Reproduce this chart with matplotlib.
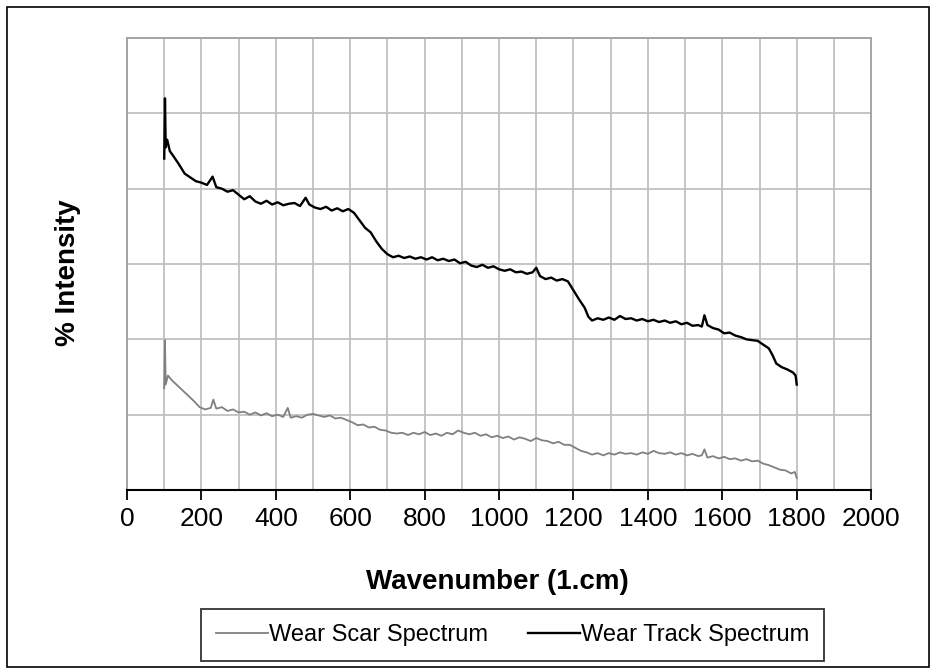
import matplotlib
matplotlib.use("Agg")
import matplotlib.pyplot as plt
from matplotlib.patches import Rectangle

plt.rcParams["font.family"] = ["Liberation Sans", "DejaVu Sans"]

# wear track spectrum (black)
track_x = [100, 102, 104, 108, 115, 125, 140, 155, 170, 185, 200, 215, 230, 240, 255, 270, 285, 300,
           315, 330, 345, 360, 375, 390, 405, 420, 435, 450, 465, 480, 490, 505, 520, 535, 550, 565,
           580, 595, 610, 625, 640, 655, 670, 685, 700, 715, 730, 745, 760, 775, 790, 805, 820, 835,
           850, 865, 880, 895, 910, 925, 940, 955, 970, 985, 1000, 1015, 1030, 1045, 1060, 1075, 1090,
           1100, 1110, 1125, 1140, 1155, 1170, 1185, 1200, 1215, 1230, 1240, 1250, 1265, 1280, 1295,
           1310, 1325, 1340, 1355, 1370, 1385, 1400, 1415, 1430, 1445, 1460, 1475, 1490, 1505, 1520,
           1535, 1545, 1552, 1560, 1575, 1590, 1605, 1620, 1635, 1650, 1665, 1680, 1695, 1710, 1725,
           1735, 1745, 1760, 1775, 1790, 1797, 1800]
track_y = [44.0, 52.0, 45.5, 46.5, 45.0, 44.3, 43.2, 42.0, 41.5, 41.0, 40.8, 40.5, 41.6, 40.2, 40.0, 39.6, 39.8, 39.2,
           38.6, 39.0, 38.3, 38.0, 38.4, 37.9, 38.2, 37.8, 38.0, 38.1, 37.7, 38.8, 37.9, 37.5, 37.3, 37.6, 37.1, 37.4,
           37.0, 37.3, 36.8, 35.8, 34.8, 34.2, 33.0, 32.0, 31.3, 30.9, 31.1, 30.8, 31.0, 30.7, 30.9, 30.6, 30.9, 30.5,
           30.7, 30.4, 30.6, 30.1, 30.3, 29.8, 29.6, 29.9, 29.5, 29.7, 29.3, 29.1, 29.3, 28.9, 29.0, 28.7, 28.9,
           29.5, 28.4, 28.0, 28.2, 27.8, 28.0, 27.7, 26.5, 25.3, 24.2, 23.0, 22.5, 22.8, 22.6, 22.9,
           22.6, 23.1, 22.7, 22.8, 22.5, 22.7, 22.4, 22.6, 22.3, 22.5, 22.2, 22.4, 22.0, 22.2, 21.8,
           21.9, 21.7, 23.2, 21.9, 21.5, 21.3, 20.8, 20.9, 20.5, 20.3, 20.0, 19.9, 19.8, 19.3, 18.8,
           17.9, 16.8, 16.3, 16.0, 15.6, 15.2, 14.0]

# wear scar spectrum (gray)
scar_x = [100, 102, 104, 110, 120, 135, 150, 165, 180, 195, 210, 225, 232, 240, 255, 270, 285, 300,
          315, 330, 345, 360, 375, 390, 405, 420, 432, 440, 455, 470, 485, 500, 515, 530, 545, 560,
          575, 590, 605, 620, 635, 650, 665, 680, 695, 710, 725, 740, 755, 770, 785, 800, 815, 830,
          845, 860, 875, 890, 905, 920, 935, 950, 965, 980, 995, 1010, 1025, 1040, 1055, 1070, 1085,
          1100, 1115, 1130, 1145, 1160, 1175, 1190, 1205, 1220, 1235, 1250, 1265, 1280, 1295, 1310,
          1325, 1340, 1355, 1370, 1385, 1400, 1415, 1430, 1445, 1460, 1475, 1490, 1505, 1520, 1535,
          1545, 1552, 1560, 1575, 1590, 1605, 1620, 1635, 1650, 1665, 1680, 1695, 1710, 1725, 1740,
          1755, 1770, 1785, 1795, 1800]
scar_y = [13.5, 19.9, 14.0, 15.2, 14.6, 13.9, 13.2, 12.5, 11.8, 11.0, 10.7, 10.9, 12.0, 10.8, 11.0, 10.5, 10.7, 10.3,
          10.4, 10.0, 10.3, 9.9, 10.2, 9.8, 10.0, 9.7, 10.9, 9.6, 9.8, 9.6, 10.0, 10.1, 9.9, 9.7, 9.9, 9.5,
          9.6, 9.3, 9.0, 8.6, 8.7, 8.3, 8.4, 8.0, 7.9, 7.6, 7.5, 7.6, 7.3, 7.6, 7.4, 7.7, 7.3, 7.5,
          7.2, 7.6, 7.4, 7.9, 7.6, 7.4, 7.6, 7.2, 7.4, 7.0, 7.2, 6.9, 7.1, 6.7, 7.0, 6.8, 6.5,
          6.9, 6.6, 6.5, 6.2, 6.4, 6.0, 6.0, 5.6, 5.2, 5.0, 4.7, 4.9, 4.6, 4.9, 4.7,
          5.0, 4.8, 4.9, 4.7, 5.0, 4.8, 5.2, 4.9, 4.8, 5.0, 4.7, 4.9, 4.6, 4.8, 4.5,
          4.6, 5.4, 4.3, 4.5, 4.2, 4.4, 4.1, 4.2, 3.9, 4.1, 3.8, 3.9, 3.5, 3.3, 3.0,
          2.7, 2.6, 2.2, 2.4, 1.6]

fig = plt.figure(figsize=(9.36, 6.72), dpi=100)
fig.patches.append(Rectangle((0.008, 0.008), 0.984, 0.982, transform=fig.transFigure,
                             fill=False, edgecolor="black", linewidth=1.2))

ax = fig.add_axes([0.1357, 0.2708, 0.795, 0.6726])
ax.plot(scar_x, scar_y, color="#808080", linewidth=1.3, label="Wear Scar Spectrum")
ax.plot(track_x, track_y, color="black", linewidth=1.7, label="Wear Track Spectrum")

ax.set_xlim(0, 2000)
ax.set_ylim(0, 60)
ax.set_xticks(range(0, 2001, 200))
ax.set_xticks(range(0, 2001, 100), minor=True)
ax.set_yticks(range(0, 61, 10))
ax.set_yticklabels([])
ax.tick_params(axis="y", length=0)
ax.tick_params(axis="x", which="major", direction="out", length=7, width=1.3, labelsize=19, pad=5)
ax.tick_params(axis="x", which="minor", length=0)
ax.grid(True, which="both", color="#c0c0c0", linewidth=1.3)
ax.set_axisbelow(True)
for s in ["left", "top", "right"]:
    ax.spines[s].set_color("#a0a0a0")
    ax.spines[s].set_linewidth(1.3)
ax.spines["bottom"].set_color("black")
ax.spines["bottom"].set_linewidth(1.5)

ax.set_xlabel("Wavenumber (1.cm)", fontsize=20, fontweight="bold", va="center")
ax.xaxis.set_label_coords(0.498, -0.2035)
ax.set_ylabel("% Intensity", fontsize=20, fontweight="bold", va="center")
ax.yaxis.set_label_coords(-0.0793, 0.48)

leg = fig.legend(loc="center", bbox_to_anchor=(0.548, 0.055), ncol=2, fontsize=17,
                 frameon=True, fancybox=False, edgecolor="black", handlelength=2.2,
                 handletextpad=0.05, columnspacing=1.7, borderpad=0.62)
leg.get_frame().set_linewidth(1.3)

fig.savefig("out.png", dpi=100)
